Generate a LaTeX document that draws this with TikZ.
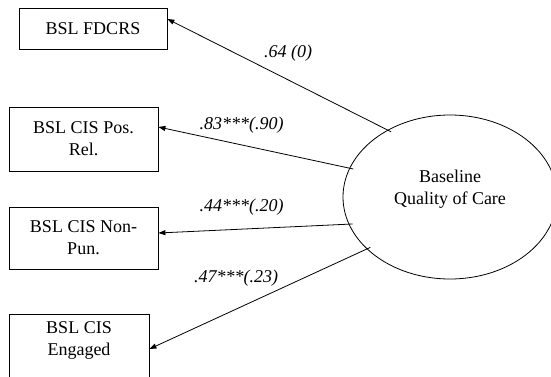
\documentclass[tikz,border=0pt]{standalone}
\usepackage{fontspec}
\setmainfont{Liberation Serif}
\usetikzlibrary{arrows.meta,shapes.geometric,calc}
\begin{document}
\begin{tikzpicture}[x=1pt,y=-1pt,
  txt/.style={font=\fontsize{18}{22}\selectfont},
  box/.style={txt,draw,line width=0.8pt,rectangle,align=center,inner sep=0pt},
  load/.style={draw,line width=0.8pt,-{Triangle[length=7pt,width=5pt]},shorten <=-4pt},
  coef/.style={font=\fontsize{18}{22}\selectfont\itshape,inner sep=0pt}]
\path[use as bounding box,clip] (0,0) rectangle (551,377);

% indicators
\node[box,minimum width=148pt,minimum height=41pt] (b1) at (93,28.5) {BSL FDCRS};
\node[box,minimum width=149pt,minimum height=64pt] (b2) at (83.5,139) {BSL CIS Pos.\\Rel.};
\node[box,minimum width=149pt,minimum height=62pt] (b3) at (83.5,238) {BSL CIS Non-\\Pun.};
\node[box,minimum width=140pt,minimum height=78pt] (b4) at (79,353) {BSL CIS\\Engaged\\\strut};

% latent factor
\node[draw,ellipse,line width=0.8pt,minimum width=214pt,minimum height=164pt,inner sep=0pt] (ell) at (450,197) {};
\node[txt,align=center,inner sep=0pt] (lat) at (450,189) {Baseline\\Quality of Care};

% loadings
\draw[load] (ell.133) -- ([yshift=9.5pt]b1.east);
\draw[load] (ell.164) -- ([yshift=12pt]b2.east);
\draw[load] (ell.195) -- ([yshift=5pt]b3.east);
\draw[load] (ell.212) -- ([yshift=4pt]b4.east);

\node[coef] (c1) at (288,53) {.64 (0)};
\node[coef] (c2) at (241.5,125) {.83***(.90)};
\node[coef] (c3) at (241.5,207) {.44***(.20)};
\node[coef] (c4) at (236,278) {.47***(.23)};
\end{tikzpicture}
\end{document}
